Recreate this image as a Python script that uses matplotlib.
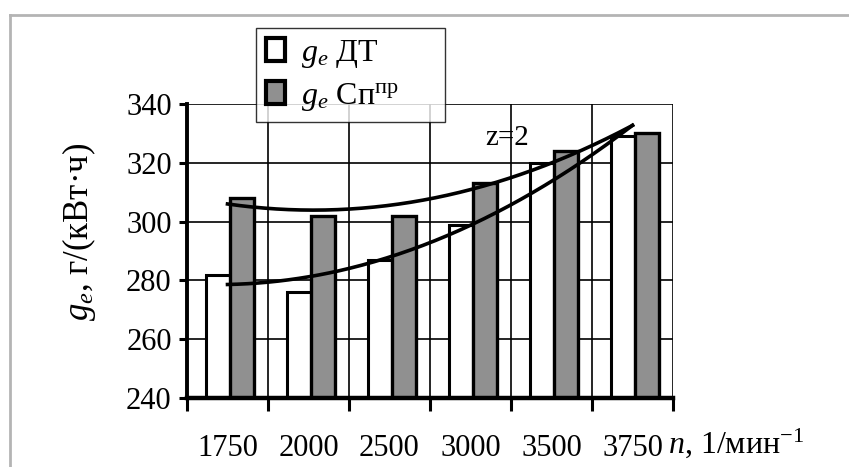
import numpy as np
import matplotlib
matplotlib.use("Agg")
import matplotlib.pyplot as plt
from matplotlib.patches import Rectangle
from matplotlib.lines import Line2D

plt.rcParams['font.family'] = ['Liberation Serif', 'DejaVu Serif']
plt.rcParams['mathtext.fontset'] = 'custom'
plt.rcParams['mathtext.rm'] = 'Liberation Serif'
plt.rcParams['mathtext.it'] = 'Liberation Serif:italic'
plt.rcParams['mathtext.bf'] = 'Liberation Serif:bold'

categories = ["1750", "2000", "2500", "3000", "3500", "3750"]
ge_dt = [282, 276, 287, 299, 320, 329]
ge_sp = [308, 302, 302, 313, 324, 330]
yticks = [240, 260, 280, 300, 320, 340]

fig = plt.figure(figsize=(8.49, 4.67), dpi=100)
ax = fig.add_axes([187/849, 1-398/467, (673-187)/849, (398-104)/467])

x = np.arange(len(categories))
w = 0.3
ax.bar(x - 0.12, ge_dt, width=w, bottom=0, color='white', edgecolor='black', linewidth=2.2, zorder=2)
ax.bar(x + 0.18, ge_sp, width=w, bottom=0, color='#909090', edgecolor='black', linewidth=2.4, zorder=2)

# polynomial (order 2) trendlines, as in the original
xx = np.linspace(0, len(categories)-1, 200)
for ser in (ge_dt, ge_sp):
    c = np.polyfit(x + 1, ser, 2)
    ax.plot(xx, np.polyval(c, xx + 1), color='black', lw=2.6, zorder=3)

ax.text(3.45, 328.5, "z=2", fontsize=21, ha='center', va='center', zorder=4)

ax.set_xlim(-0.5, len(categories)-0.5)
ax.set_ylim(240, 340)
ax.set_yticks(yticks)
ax.set_yticklabels([str(v) for v in yticks], fontsize=22)
ax.set_xticks(np.arange(-0.5, len(categories)), labels=[''] * (len(categories)+1))
ax.set_xticks(x, labels=categories, minor=True)
ax.tick_params(axis='x', which='major', direction='out', length=9, width=2.2, color='black')
ax.tick_params(axis='x', which='minor', length=0, pad=26, labelsize=22)
ax.tick_params(axis='y', direction='out', length=6, width=2.2, pad=5)
ax.set_axisbelow(True)
ax.grid(True, which='major', color='black', lw=1.2)
for s in ('top', 'right'):
    ax.spines[s].set_visible(False)
ax.spines['left'].set_linewidth(2.8)
ax.spines['bottom'].set_linewidth(3.2)
ax.spines['bottom'].set_zorder(5)

ax.set_ylabel("$g_e$, г/(кВт·ч)", fontsize=25)
ax.yaxis.set_label_coords((98-187)/486, (398-232)/294)

fig.text(668/849, 1-443/467, "$n$, 1/мин$^{−1}$", fontsize=23, ha='left', va='center')

# legend
h1 = Rectangle((0, 0), 1, 1, facecolor='white', edgecolor='black', linewidth=3)
h2 = Rectangle((0, 0), 1, 1, facecolor='#909090', edgecolor='black', linewidth=3)
leg = fig.legend([h1, h2], ["$g_e$ ДТ", "$g_e$ Сп$^{\\mathrm{пр}}$"],
                 loc='upper left',
                 bbox_to_anchor=(256/849, 1-122/467, (445-256)/849, (122-28)/467),
                 mode='expand',
                 fontsize=23, frameon=True, fancybox=False, edgecolor='black',
                 handlelength=0.6, handleheight=0.75, handletextpad=0.5,
                 borderpad=0.3, labelspacing=0.35, borderaxespad=0)
leg.get_frame().set_linewidth(1.0)
leg._legend_box.align = 'left'

# outer light frame
fig.add_artist(Line2D([10/849, 1], [1-15/467, 1-15/467], color='#b4b4b4', lw=2))
fig.add_artist(Line2D([10/849, 10/849], [0, 1-15/467], color='#b4b4b4', lw=2))

fig.savefig("out.png", dpi=100)
